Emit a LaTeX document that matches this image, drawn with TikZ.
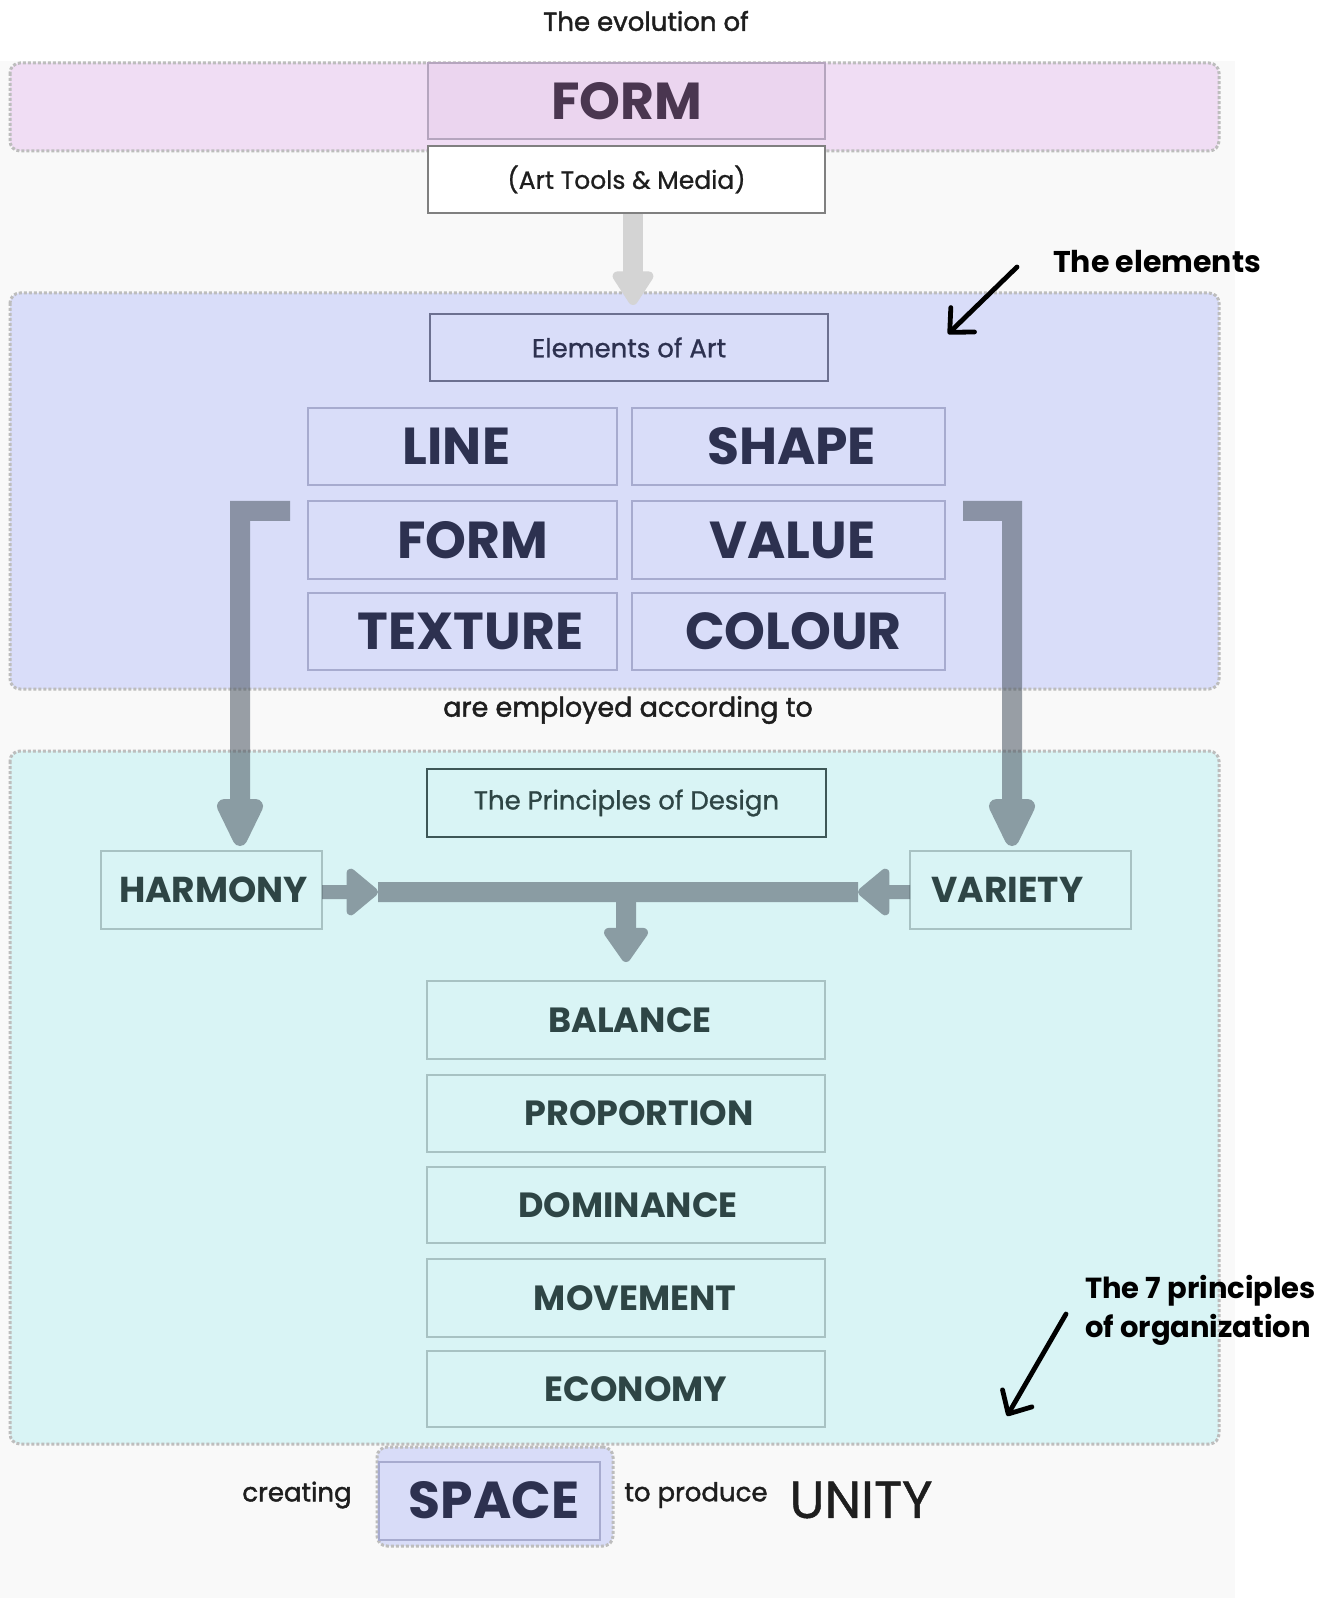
\documentclass[tikz,border=0pt]{standalone}
\usepackage{fontspec}
\setmainfont{Poppins}
\newfontfamily\popsemi{Poppins}[FakeBold=1.6]
\newfontfamily\popmed{Poppins}[FakeBold=0.9]
\usetikzlibrary{arrows.meta,calc,fit}
\definecolor{bgg}{HTML}{F9F9F9}
\definecolor{pinkband}{HTML}{F0DDF4}
\definecolor{pinkbox}{HTML}{EBD5EF}
\definecolor{pinkline}{HTML}{B5A5BE}
\definecolor{formtxt}{HTML}{4A3650}
\definecolor{blueband}{HTML}{D9DDF9}
\definecolor{blueline}{HTML}{A7ABCF}
\definecolor{bluetxt}{HTML}{2D3150}
\definecolor{bluedark}{HTML}{6C7090}
\definecolor{cyanband}{HTML}{D9F4F5}
\definecolor{cyanline}{HTML}{A8C2C3}
\definecolor{cyantxt}{HTML}{2E4545}
\definecolor{cyandark}{HTML}{3E5757}
\definecolor{dotgrey}{HTML}{BDBDBD}
\definecolor{lightarrow}{HTML}{D4D4D4}
\definecolor{bararrow}{HTML}{4A5560}
\definecolor{inktxt}{HTML}{1E1E1E}
\definecolor{spaceband}{HTML}{D8DCF8}
\begin{document}
\begin{tikzpicture}[x=0.5pt,y=-0.5pt,
  band/.style={draw=dotgrey, line width=1.5pt, dash pattern=on 1.5pt off 1pt, rounded corners=5pt},
  fitbox/.style={inner sep=0pt, outer sep=0pt},
  elembox/.style={fitbox, draw=blueline, line width=0.6pt, fill=blueband},
  elemtxt/.style={text=bluetxt, font=\fontsize{26}{30}\selectfont\bfseries},
  pbox/.style={fitbox, draw=cyanline, line width=0.6pt, fill=cyanband},
  ptxt/.style={text=cyantxt, font=\fontsize{17.5}{20}\selectfont\bfseries},
  plain/.style={text=inktxt, font=\popsemi\fontsize{13}{16}\selectfont},
  note/.style={text=black, font=\fontsize{15}{19.5}\selectfont\bfseries, align=left},
  notearrow/.style={draw=black, line width=2.4pt, line cap=round, -{Straight Barb[length=9pt,width=17pt,round]}},
  fatbar/.style={draw=bararrow, line join=miter},
]
\useasboundingbox (0,0) rectangle (1339,1598);
\fill[white] (0,0) rectangle (1339,1598);
\fill[bgg] (0,61) rectangle (1235,1598);

% bands
\draw[band, fill=pinkband] (10,63) rectangle (1219,151);
\draw[band, fill=blueband] (10,293) rectangle (1219,689);
\draw[band, fill=cyanband] (10,751) rectangle (1219,1444);

% title
\node[plain] (title) at (646,21) {The evolution of};

% FORM top
\node[fitbox, draw=pinkline, line width=0.6pt, fill=pinkbox, fit={(428,63) (825,139)}] (formtop) {};
\node[text=formtxt, font=\fontsize{26}{30}\selectfont\bfseries] at (formtop.center) {FORM};
\node[fitbox, draw=black!50, line width=0.9pt, fill=white, fit={(428,146) (825,213)}] (arttools) {};
\node[text=inktxt, font=\popmed\fontsize{12.5}{15}\selectfont] at (arttools.center) {(Art Tools \& Media)};

% Elements of Art
\node[fitbox, draw=bluedark, line width=1.2pt, fill=blueband, fit={(430,314) (828,381)}] (elements) {};
\node[text=bluetxt, font=\popmed\fontsize{13}{16}\selectfont] at (elements.center) {Elements of Art};

\node[elembox, fit={(308,408) (617,485)}] (line) {};
\node[elembox, fit={(632,408) (945,485)}] (shape) {};
\node[elembox, fit={(308,501) (617,579)}] (form) {};
\node[elembox, fit={(632,501) (945,579)}] (value) {};
\node[elembox, fit={(308,593) (617,670)}] (texture) {};
\node[elembox, fit={(632,593) (945,670)}] (colour) {};
\node[elemtxt] at ($(line.center)+(-6,0)$) {LINE};
\node[elemtxt] at ($(shape.center)+(3,0)$) {SHAPE};
\node[elemtxt] at ($(form.center)+(10,0)$) {FORM};
\node[elemtxt] at ($(value.center)+(4,0)$) {VALUE};
\node[elemtxt] at ($(texture.center)+(8,0)$) {TEXTURE};
\node[elemtxt] at ($(colour.center)+(5,0)$) {COLOUR};

\node[plain, font=\popsemi\fontsize{13.5}{16}\selectfont] (employed) at (628,710) {are employed according to};

% Principles
\node[fitbox, draw=cyandark, line width=1.3pt, fill=cyanband, fit={(427,769) (826,837)}] (principles) {};
\node[text=cyantxt, font=\popmed\fontsize{13}{16}\selectfont] at (principles.center) {The Principles of Design};

\node[pbox, fit={(101,851) (322,929)}] (harmony) {};
\node[ptxt, font=\fontsize{18}{20}\selectfont\bfseries] at ($(harmony.center)+(2,0)$) {HARMONY};
\node[pbox, fit={(910,851) (1131,929)}] (variety) {};
\node[ptxt, font=\fontsize{18}{20}\selectfont\bfseries] at ($(variety.center)+(-13,0)$) {VARIETY};

\node[pbox, fit={(427,981) (825,1059)}] (balance) {};
\node[pbox, fit={(427,1075) (825,1152)}] (proportion) {};
\node[pbox, fit={(427,1167) (825,1243)}] (dominance) {};
\node[pbox, fit={(427,1259) (825,1337)}] (movement) {};
\node[pbox, fit={(427,1351) (825,1427)}] (economy) {};
\node[ptxt] at ($(balance.center)+(4,0)$) {BALANCE};
\node[ptxt] at ($(proportion.center)+(13,0)$) {PROPORTION};
\node[ptxt] at ($(dominance.center)+(2,0)$) {DOMINANCE};
\node[ptxt] at ($(movement.center)+(9,0)$) {MOVEMENT};
\node[ptxt] at ($(economy.center)+(10,0)$) {ECONOMY};

% bottom line
\node[plain] (creating) at (297,1495) {creating};
\node[band, fill=spaceband, fit={(377,1447) (613,1546)}, inner sep=0pt] (spaceout) {};
\node[fitbox, draw=blueline, line width=0.6pt, fit={(379,1462) (600,1540)}] (spacein) {};
\node[text=bluetxt, font=\fontsize{26}{30}\selectfont\bfseries] (space) at (494,1500) {SPACE};
\node[plain] (toproduce) at (696,1495) {to produce};
\node[text=inktxt, font=\popmed\fontsize{26}{30}\selectfont] (unity) at (861,1500) {UNITY};

% arrows
\coordinate (g1) at (633,214);
\coordinate (g2) at (633,305);
\draw[draw=lightarrow, line width=10pt, -{Triangle[length=19pt,width=23pt,round]}] (g1) -- (g2);

\coordinate (bl1) at (290,511);
\coordinate (bl2) at (240,846);
\coordinate (br1) at (963,511);
\coordinate (br2) at (1012,846);
\coordinate (hl) at (378,892);
\coordinate (hr) at (858,892);
\coordinate (hc) at (626,892);
\coordinate (hd) at (626,962);
\begin{scope}[transparency group, opacity=0.55]
\draw[fatbar, line width=10pt, -{Triangle[length=29pt,width=25pt,round]}] (bl1) -| (bl2);
\draw[fatbar, line width=10pt, -{Triangle[length=29pt,width=25pt,round]}] (br1) -| (br2);
\draw[fatbar, line width=10pt] (hl) -- (hr);
\draw[fatbar, line width=7pt, -{Triangle[length=17pt,width=27pt,round]}] (harmony.east |- hl) -- (hl);
\draw[fatbar, line width=7pt, -{Triangle[length=17pt,width=27pt,round]}] (variety.west |- hr) -- (hr);
\draw[fatbar, line width=10pt, -{Triangle[length=19pt,width=25pt,round]}] (hc) -- (hd);
\end{scope}

% annotations
\node[note, anchor=west] (elnote) at (1046,262) {The elements};
\coordinate (ea) at (1017,267);
\coordinate (eb) at (948,334);
\draw[notearrow] (ea) -- (eb);
\node[note, anchor=west, font=\fontsize{14.5}{19.5}\selectfont\bfseries] (prnote) at (1078,1310) {The 7 principles\\of organization};
\coordinate (pa) at (1066,1314);
\coordinate (pb) at (1007,1416);
\draw[notearrow] (pa) -- (pb);
\end{tikzpicture}
\end{document}
